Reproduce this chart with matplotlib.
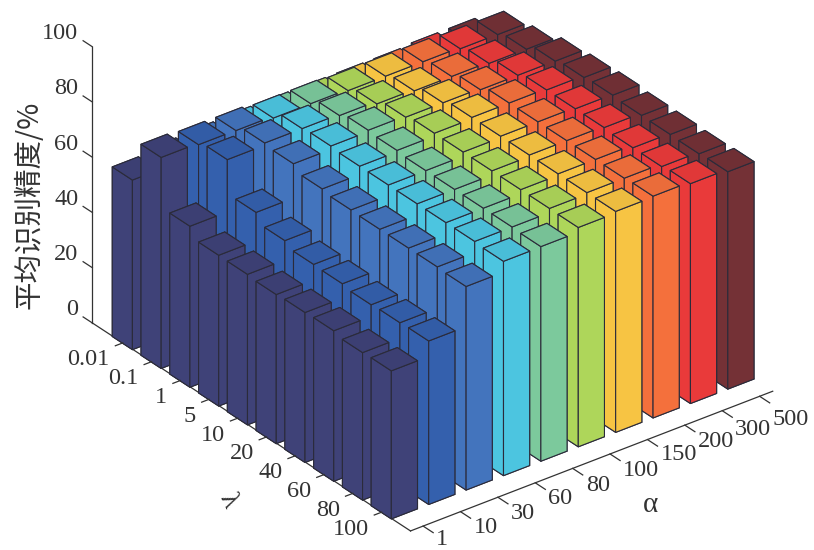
import matplotlib
matplotlib.use('Agg')
import matplotlib.pyplot as plt
import matplotlib.colors as mc
from mpl_toolkits.mplot3d import Axes3D, proj3d

alpha_labels = ['1', '10', '30', '60', '80', '100', '150', '200', '300', '500']
lambda_labels = ['0.01', '0.1', '1', '5', '10', '20', '40', '60', '80', '100']
z_ticks = [0, 20, 40, 60, 80, 100]

# one row per alpha, one value per lambda
acc_a1 = [61.4, 76.4, 58.3, 54.6, 54.5, 54, 54.3, 54.5, 53.4, 53.6]
acc_a10 = [63, 75.8, 77.2, 64.9, 61.5, 59.7, 59.5, 58.7, 59, 59.2]
acc_a30 = [63.6, 75.7, 78, 77.3, 75, 74.2, 74, 74, 74, 73.7]
acc_a60 = [64, 75, 78, 78.5, 78, 78, 78, 78, 78, 77.6]
acc_a80 = [64, 75, 77.5, 79, 78.5, 78, 78, 78, 78, 77.7]
acc_a100 = [64, 74.5, 76.5, 78.5, 79.5, 79.5, 79.5, 79.5, 79.5, 79.4]
acc_a150 = [64, 74.5, 76, 78.5, 80, 80, 80, 80, 80, 80]
acc_a200 = [64, 74.5, 76, 78, 80, 80, 80, 80, 80, 80.3]
acc_a300 = [64.5, 74, 75.5, 78, 79.5, 79.5, 79.5, 79, 79, 79.6]
acc_a500 = [64.5, 73.9, 75.4, 77.9, 78.8, 79.2, 78.7, 78.6, 78.4, 78.7]
acc = [acc_a1, acc_a10, acc_a30, acc_a60, acc_a80, acc_a100, acc_a150, acc_a200, acc_a300, acc_a500]

bar_colors = ['#3f4278', '#3460ad', '#4374bd', '#4cc5e0', '#7cc99c',
              '#aed65a', '#f7c443', '#f4703c', '#e93a3a', '#743136']

plt.rcParams['font.family'] = ['Liberation Serif', 'DejaVu Serif']
txt = '#333333'
W, H = 814, 550

fig = plt.figure(figsize=(8.14, 5.5), dpi=100)
S = 1000.0
ax = fig.add_axes([-81/W, -182.5/H, S/W, S/H], projection='3d', proj_type='ortho')
ax.computed_zorder = False
ax.set_box_aspect((449, 513.5, 314), zoom=0.7415)
ax.view_init(elev=30.14, azim=-127.53)

xmin, xmax = 0.663, 10.35
ylo, yhi = -0.06, 11.0
ax.set_xlim(xmin, xmax)
ax.set_ylim(yhi, ylo)
ax.set_zlim(0, 100)
ax.set_axis_off()
ax.patch.set_alpha(0)


def darker(c, f=0.96):
    r, g, b = mc.to_rgb(c)
    return (r*f, g*f, b*f)


w = 0.7
# back to front so the nearer bars paint over the farther ones
for i in range(9, -1, -1):
    for j in range(10):
        top = darker(bar_colors[i])
        faces = [bar_colors[i], top] + [bar_colors[i]]*4
        ax.bar3d(i+1-w/2, j+1-w/2, 0, w, w, acc[i][j], color=faces, shade=False,
                 edgecolor='#2b2b3a', linewidth=0.8)

lc = '#333333'
ax.plot([xmin, xmin], [ylo, ylo], [0, 100], color=lc, lw=0.9)
ax.plot([xmin, xmin], [ylo, yhi], [0, 0], color=lc, lw=0.9, zorder=0)
ax.plot([xmin, xmax], [yhi, yhi], [0, 0], color=lc, lw=0.9)

for z in z_ticks:
    ax.plot([xmin, xmin], [ylo, ylo-0.32], [z, z], color=lc, lw=0.9)
for j in range(10):
    ax.plot([xmin, xmin-0.2], [j+1, j+1], [0, 0], color=lc, lw=0.9)
for i in range(10):
    ax.plot([i+1, i+1], [yhi, yhi+0.35], [0, 0], color=lc, lw=0.9)

fig.canvas.draw()


def label(x, y, z, dx, dy, s, **kw):
    # place a flat text dx, dy pixels from a projected axis point
    px, py, _ = proj3d.proj_transform(x, y, z, ax.M)
    dpx, dpy = ax.transData.transform((px, py))
    fig.text((dpx+dx)/W, (dpy-dy)/H, s, va='center', color=txt, **kw)


for z in z_ticks:
    label(xmin, ylo, z, -14, -13, str(z), ha='right', fontsize=17.5)
for j, lab in enumerate(lambda_labels):
    label(xmin, j+1, 0, -13, 17, lab, ha='right', fontsize=17.5)
# the labels drift away from the axis towards the far end
alpha_dy = [13.5, 16, 16, 15.5, 17, 17, 15, 16, 18.5, 23]
for i, lab in enumerate(alpha_labels):
    label(i+1, yhi, 0, 13, alpha_dy[i], lab, ha='left', fontsize=17.5)

fig.text(228/W, 1-500/H, 'λ', ha='center', va='center', fontsize=20, color=txt, rotation=-65)
fig.text(650/W, 1-505/H, 'α', ha='center', va='center', fontsize=21, color=txt)

fig.text(30/W, 1-205/H, '平均识别精度/%', rotation=90, ha='center', va='center',
         fontsize=20.5, color=txt, family=['Noto Sans CJK SC', 'DejaVu Sans'])

fig.savefig('out.png', dpi=100)
